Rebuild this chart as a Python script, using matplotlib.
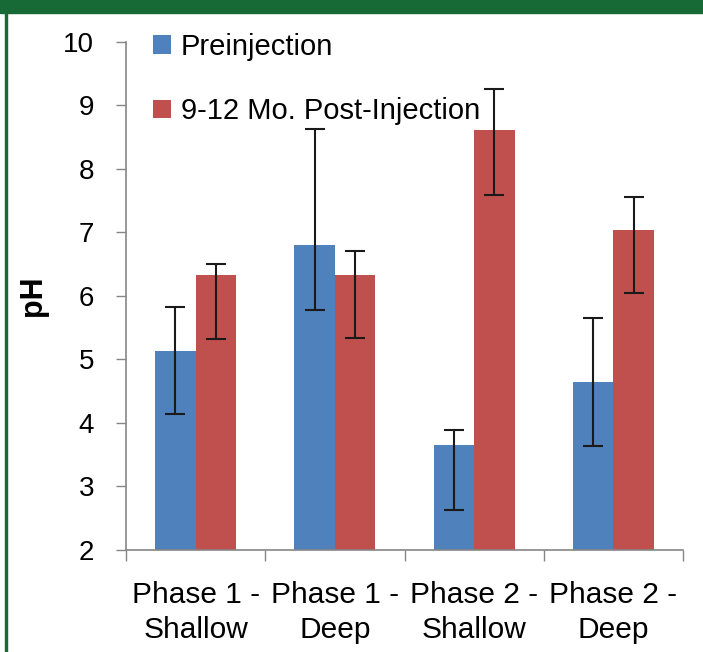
import numpy as np
import matplotlib.pyplot as plt
from matplotlib.patches import Rectangle

plt.rcParams['font.family'] = ['Liberation Sans', 'DejaVu Sans']

# Data
categories = ["Phase 1 -\nShallow", "Phase 1 -\nDeep", "Phase 2 -\nShallow", "Phase 2 -\nDeep"]
pre = [5.12, 6.80, 3.64, 4.64]
pre_hi = [5.82, 8.62, 3.89, 5.64]
pre_lo = [4.13, 5.78, 2.63, 3.63]
post = [6.33, 6.33, 8.61, 7.04]
post_hi = [6.50, 6.70, 9.26, 7.55]
post_lo = [5.32, 5.33, 7.59, 6.04]
yticks = [2, 3, 4, 5, 6, 7, 8, 9, 10]

blue = "#4F81BD"
red = "#C0504D"
axis_grey = "#868686"
green = "#176A36"

fig = plt.figure(figsize=(7.03, 6.52), dpi=100)
ax = fig.add_axes([126 / 703, 1 - 549.5 / 652, 557 / 703, 507.8 / 652])

x = np.arange(len(categories))
w = 0.29
pre_err = [np.array(pre) - np.array(pre_lo), np.array(pre_hi) - np.array(pre)]
post_err = [np.array(post) - np.array(post_lo), np.array(post_hi) - np.array(post)]

ax.bar(x - w / 2, pre, w, color=blue, label="Preinjection", zorder=2)
ax.bar(x + w / 2, post, w, color=red, label="9-12 Mo. Post-Injection", zorder=2)
ax.errorbar(x - w / 2, pre, yerr=pre_err, fmt="none", ecolor="#1a1a1a",
            elinewidth=1.5, capsize=7.5, capthick=1.5, zorder=3)
ax.errorbar(x + w / 2, post, yerr=post_err, fmt="none", ecolor="#1a1a1a",
            elinewidth=1.5, capsize=7.5, capthick=1.5, zorder=3)

ax.set_ylim(2, 10)
ax.set_xlim(-0.5, len(categories) - 0.5)
ax.set_yticks(yticks)
ax.set_yticklabels([str(t) for t in yticks], fontsize=20)
ax.tick_params(axis="y", direction="out", length=7, width=1, color=axis_grey, pad=16)

# category boundaries as tick marks, names as minor labels
ax.set_xticks(np.arange(len(categories) + 1) - 0.5)
ax.set_xticklabels([])
ax.tick_params(axis="x", which="major", direction="out", length=8, width=1, color=axis_grey)
ax.set_xticks(x, minor=True)
ax.set_xticklabels(categories, minor=True, fontsize=21.5, linespacing=1.3)
ax.tick_params(axis="x", which="minor", length=0, pad=23)

for s in ["top", "right"]:
    ax.spines[s].set_visible(False)
for s in ["left", "bottom"]:
    ax.spines[s].set_color(axis_grey)
    ax.spines[s].set_linewidth(1.2)

ax.set_ylabel("pH", fontsize=22, fontweight="bold", labelpad=11)

ax.legend(loc="upper left", bbox_to_anchor=(0.048, 1.017), frameon=False,
          fontsize=21, handlelength=0.62, handleheight=0.62, handletextpad=0.34,
          labelspacing=1.24, borderpad=0, borderaxespad=0)

# green frame of the figure
fig.patches.append(Rectangle((0, 1 - 12.5 / 652), 1, 12.5 / 652, transform=fig.transFigure,
                             color=green, zorder=0))
fig.patches.append(Rectangle((5 / 703, 0), 2 / 703, 1, transform=fig.transFigure,
                             color=green, zorder=0))

fig.savefig("out.png", dpi=100)
